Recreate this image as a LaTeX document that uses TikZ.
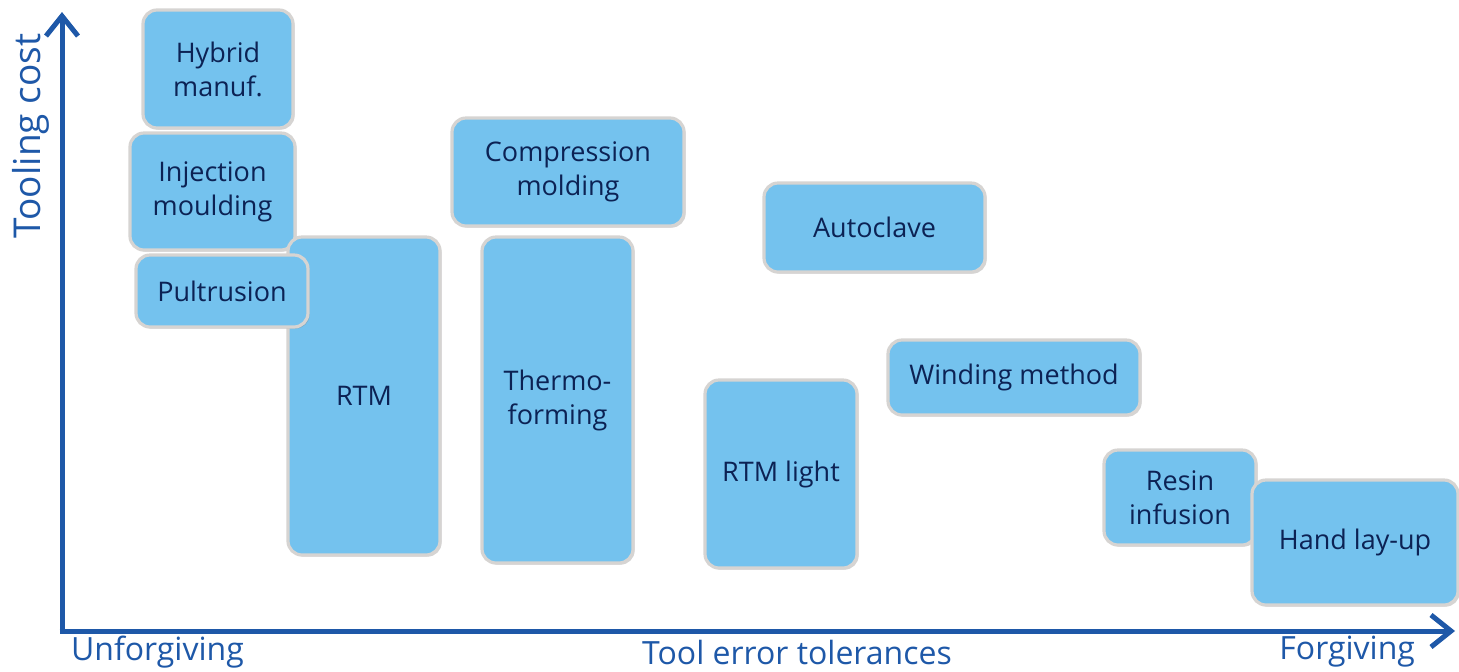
\documentclass[tikz,border=0pt]{standalone}
\usepackage{fontspec}
\setmainfont{Open Sans}
\usetikzlibrary{arrows.meta,shadows}
\definecolor{mautruc}{RGB}{30,88,168}
\definecolor{mauhop}{RGB}{116,194,238}
\definecolor{mauvien}{RGB}{214,212,210}
\definecolor{mauchu}{RGB}{12,34,84}

\begin{document}
\begin{tikzpicture}[x=0.5pt, y=-0.5pt,
    >={Straight Barb[length=10pt,width=16pt]},
    quytrinh/.style={rectangle, rounded corners=7pt, fill=mauhop, draw=mauvien,
        line width=1.6pt, inner sep=0pt, align=center, text=mauchu,
        font=\fontsize{13.5}{17}\selectfont,
        drop shadow={opacity=0.35, shadow xshift=0.8pt, shadow yshift=-0.8pt}},
    nhan/.style={text=mautruc, font=\fontsize{16}{19}\selectfont}]
    \useasboundingbox (0,0) rectangle (1459,671);

    % 1. Hệ trục
    \coordinate (O) at (62,631);
    \coordinate (ytop) at (62,12);
    \coordinate (xend) at (1455,631);
    \draw[->, mautruc, line width=2.5pt] ([yshift=-1.25pt]O) -- (ytop);
    \draw[->, mautruc, line width=2.5pt] ([xshift=-1.25pt]O) -- (xend);
    \node[nhan, rotate=90, font=\fontsize{18.5}{22}\selectfont] (ylab) at (31,136) {Tooling cost};
    \node[nhan, anchor=west] (xleft) at (64,652) {Unforgiving};
    \node[nhan] (xmid) at (797,652) {Tool error tolerances};
    \node[nhan, anchor=east] (xright) at (1422,652) {Forgiving};

    % 2. Các quy trình
    \node[quytrinh, minimum width=75pt, minimum height=59pt] (hybrid) at (218,69) {Hybrid\\manuf.};
    \node[quytrinh, minimum width=82.5pt, minimum height=58.5pt] (inject) at (212.5,191.5) {Injection\\moulding};
    \node[quytrinh, minimum width=76pt, minimum height=159pt] (rtm) at (364,396) {RTM};
    \node[quytrinh, minimum width=86pt, minimum height=36pt] (pultr) at (222,291) {Pultrusion};
    \node[quytrinh, minimum width=116pt, minimum height=54pt] (compr) at (568,172) {Compression\\molding};
    \node[quytrinh, minimum width=75.5pt, minimum height=163pt] (thermo) at (557.5,400) {Thermo-\\forming};
    \node[quytrinh, minimum width=110.5pt, minimum height=44.5pt] (autoc) at (874.5,227.5) {Autoclave};
    \node[quytrinh, minimum width=126pt, minimum height=37.5pt] (wind) at (1014,377.5) {Winding method};
    \node[quytrinh, minimum width=76pt, minimum height=94pt] (rtml) at (781,474) {RTM light};
    \node[quytrinh, minimum width=76pt, minimum height=47.5pt] (resin) at (1180,497.5) {Resin\\infusion};
    \node[quytrinh, minimum width=103pt, minimum height=62.5pt] (hand) at (1355,542.5) {Hand lay-up};
\end{tikzpicture}
\end{document}
